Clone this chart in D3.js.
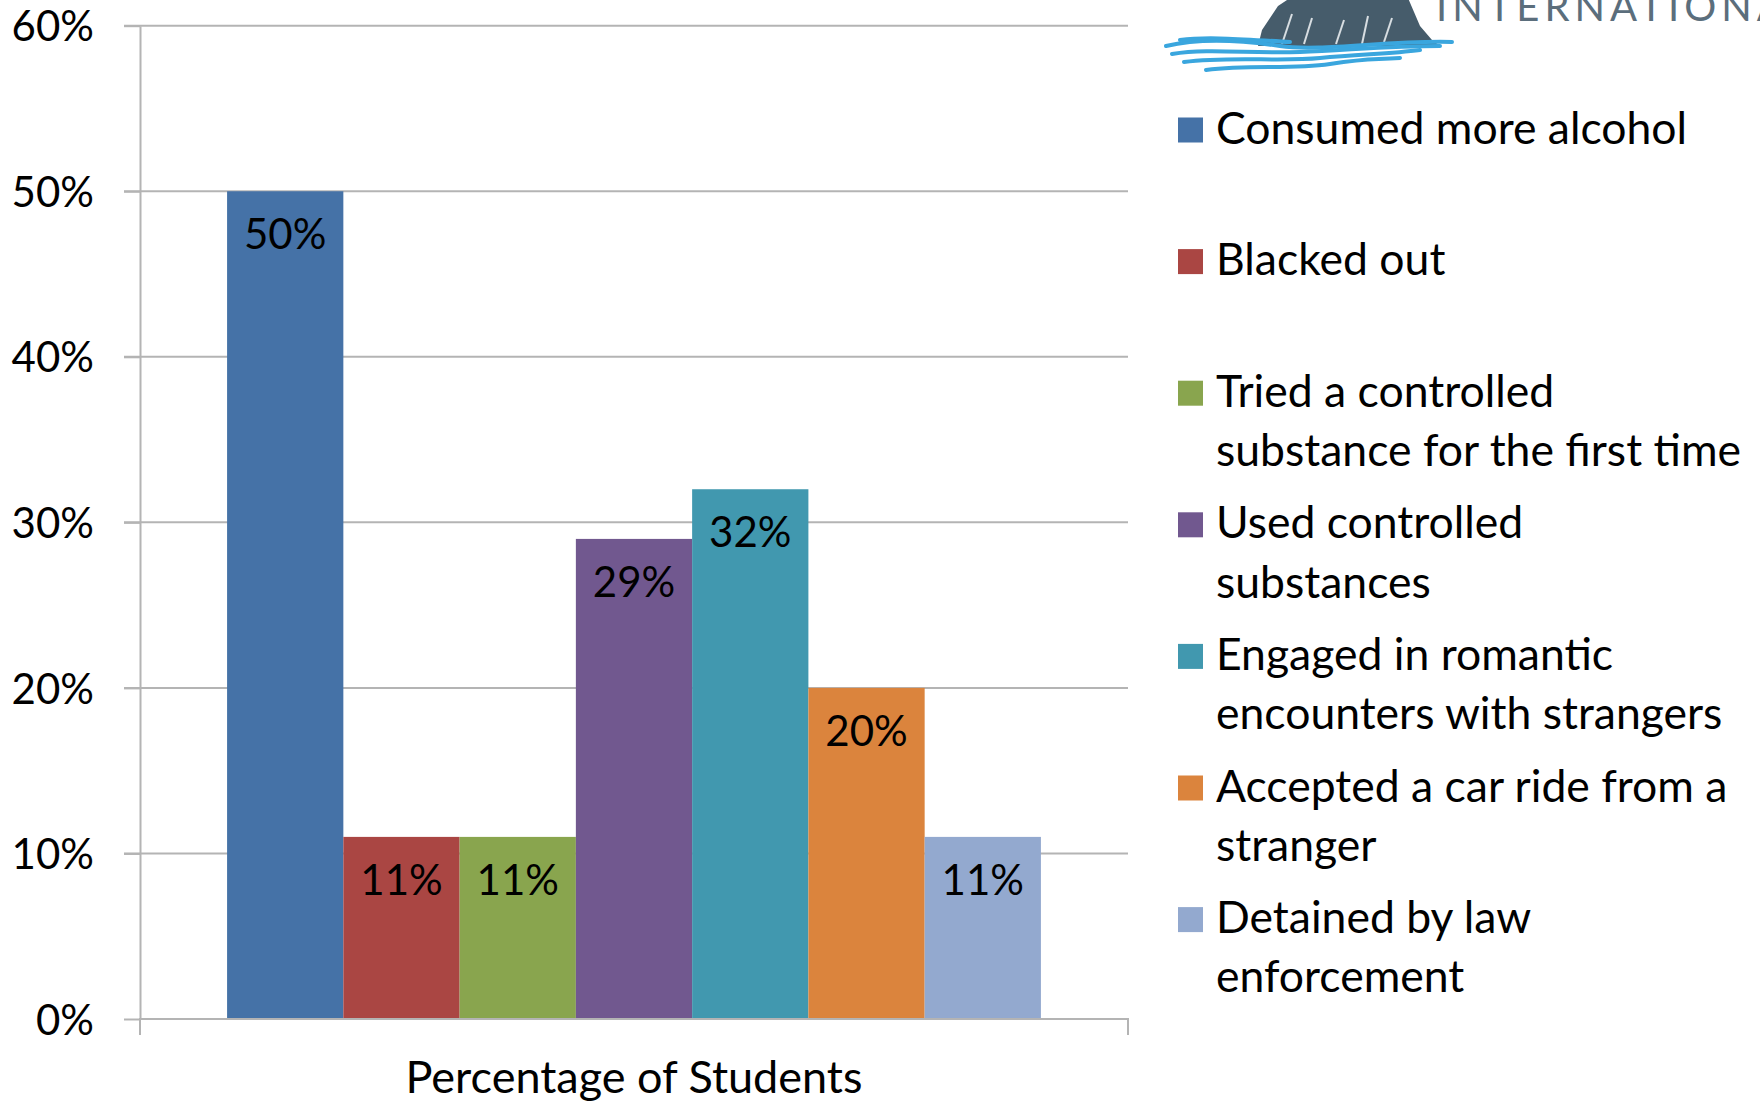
<!DOCTYPE html>
<html>
<head>
<meta charset="utf-8">
<script src="https://cdn.jsdelivr.net/npm/d3@7"></script>
<style>
  body { margin: 0; background: #fff; }
  svg { display: block; font-family: Lato, "Noto Sans", sans-serif; }
</style>
</head>
<body>
<div id="chart"></div>
<script>
// data
const categories = ['Percentage of Students'];
const seriesNames = [
  'Consumed more alcohol',
  'Blacked out',
  'Tried a controlled substance for the first time',
  'Used controlled substances',
  'Engaged in romantic encounters with strangers',
  'Accepted a car ride from a stranger',
  'Detained by law enforcement'
];
const values = [50, 11, 11, 29, 32, 20, 11];
const colors = ['#4572A7', '#AA4643', '#89A54E', '#71588F', '#4198AF', '#DB843D', '#93A9CF'];
const legendLines = [
  ['Consumed more alcohol'],
  ['Blacked out'],
  ['Tried a controlled', 'substance for the first time'],
  ['Used controlled', 'substances'],
  ['Engaged in romantic', 'encounters with strangers'],
  ['Accepted a car ride from a', 'stranger'],
  ['Detained by law', 'enforcement']
];
const yTicks = [0, 10, 20, 30, 40, 50, 60];

const W = 1760, H = 1104;
const plot = { left: 140, right: 1128, top: 25.7, bottom: 1019 };
const gridColor = '#b4b4b4';
const fontSize = 42;
const legendFont = 44.5;

const svg = d3.select('#chart').append('svg')
  .attr('width', W)
  .attr('height', H);

// scales
const y = d3.scaleLinear().domain([0, 60]).range([plot.bottom, plot.top]);
const x0 = d3.scaleBand().domain(categories)
  .range([plot.left, plot.right])
  .paddingInner(0)
  .paddingOuter(0.107);
const x1 = d3.scaleBand().domain(seriesNames).range([0, x0.bandwidth()]);
const color = d3.scaleOrdinal().domain(seriesNames).range(colors);

// gridlines
svg.append('g')
  .selectAll('line')
  .data(yTicks.filter(d => d > 0))
  .enter()
  .append('line')
  .attr('x1', plot.left - 16)
  .attr('x2', plot.right)
  .attr('y1', d => y(d))
  .attr('y2', d => y(d))
  .attr('stroke', gridColor)
  .attr('stroke-width', 2);

// bars
const group = svg.append('g')
  .selectAll('g')
  .data(categories)
  .enter()
  .append('g')
  .attr('transform', d => `translate(${x0(d)},0)`);

group.selectAll('rect')
  .data(() => seriesNames.map((s, i) => ({ name: s, value: values[i] })))
  .enter()
  .append('rect')
  .attr('x', d => x1(d.name))
  .attr('y', d => y(d.value))
  .attr('width', x1.bandwidth())
  .attr('height', d => y(0) - y(d.value))
  .attr('fill', d => color(d.name));

group.selectAll('text')
  .data(() => seriesNames.map((s, i) => ({ name: s, value: values[i] })))
  .enter()
  .append('text')
  .attr('x', d => x1(d.name) + x1.bandwidth() / 2)
  .attr('y', d => y(d.value) + 58)
  .attr('text-anchor', 'middle')
  .style('font-size', fontSize + 'px')
  .attr('fill', '#000')
  .text(d => d.value + '%');

// y axis
const yAxis = svg.append('g')
  .attr('transform', `translate(${plot.left},0)`)
  .call(d3.axisLeft(y).tickValues(yTicks).tickSize(16).tickSizeOuter(0)
    .tickPadding(30).tickFormat(d => d + '%'));
yAxis.select('.domain').attr('stroke', gridColor).attr('stroke-width', 2);
yAxis.selectAll('.tick line').attr('stroke', gridColor).attr('stroke-width', 2);
yAxis.selectAll('.tick text')
  .style('font-size', fontSize + 'px')
  .style('font-family', 'Lato, "Noto Sans", sans-serif')
  .attr('fill', '#000')
  .attr('dy', '0.36em');

// x axis
const xAxis = svg.append('g')
  .attr('transform', `translate(0,${plot.bottom})`)
  .call(d3.axisBottom(x0).tickSizeInner(0).tickSizeOuter(16));
xAxis.select('.domain').attr('stroke', gridColor).attr('stroke-width', 2)
  .attr('d', `M${plot.left},16V0H${plot.right}V16`);
xAxis.selectAll('.tick text')
  .attr('y', 74)
  .attr('dy', 0)
  .style('font-size', '45px')
  .style('font-family', 'Lato, "Noto Sans", sans-serif')
  .attr('fill', '#000');

// legend
const legend = svg.append('g').attr('transform', 'translate(1178,0)');
const item = legend.selectAll('g')
  .data(seriesNames)
  .enter()
  .append('g')
  .attr('transform', (d, i) => `translate(0,${143.5 + i * 131.6})`);
item.append('rect')
  .attr('x', 0)
  .attr('y', -26)
  .attr('width', 25)
  .attr('height', 25)
  .attr('fill', d => color(d));
item.append('text')
  .style('font-size', legendFont + 'px')
  .attr('fill', '#000')
  .selectAll('tspan')
  .data((d, i) => legendLines[i])
  .enter()
  .append('tspan')
  .attr('x', 38)
  .attr('y', (d, j) => j * 59.3)
  .text(d => d);

// logo (cropped at the top of the slide)
const logo = svg.append('g');
logo.append('path')
  .attr('d', 'M1258,46 L1262,30 L1270,18 L1278,6 L1290,-2 L1408,-2 L1414,12 L1420,26 L1432,40 L1440,46 Z')
  .attr('fill', '#465c6b');
[[1282, 44, 1292, 14], [1304, 44, 1312, 18], [1336, 44, 1344, 20], [1362, 44, 1368, 16], [1384, 42, 1392, 18]]
  .forEach(l => logo.append('line')
    .attr('x1', l[0]).attr('y1', l[1]).attr('x2', l[2]).attr('y2', l[3])
    .attr('stroke', '#d8dee2').attr('stroke-width', 2));
const waves = [
  'M1166,46 C1200,38 1240,40 1280,46 S1390,40 1452,42',
  'M1172,54 C1210,48 1250,54 1300,52 S1390,46 1440,46',
  'M1184,62 C1230,56 1280,62 1320,58 S1390,54 1420,50',
  'M1206,70 C1250,64 1290,70 1330,64 S1370,60 1400,58',
  'M1180,40 C1210,36 1250,40 1290,42'
];
logo.selectAll('path.wave')
  .data(waves)
  .enter()
  .append('path')
  .attr('class', 'wave')
  .attr('d', d => d)
  .attr('fill', 'none')
  .attr('stroke', '#3aa6de')
  .attr('stroke-width', 4)
  .attr('stroke-linecap', 'round');
logo.append('text')
  .attr('x', 1436)
  .attr('y', 21)
  .style('font-size', '40px')
  .style('letter-spacing', '5px')
  .attr('fill', '#5b6e7c')
  .text('INTERNATIONAL');
</script>
</body>
</html>
